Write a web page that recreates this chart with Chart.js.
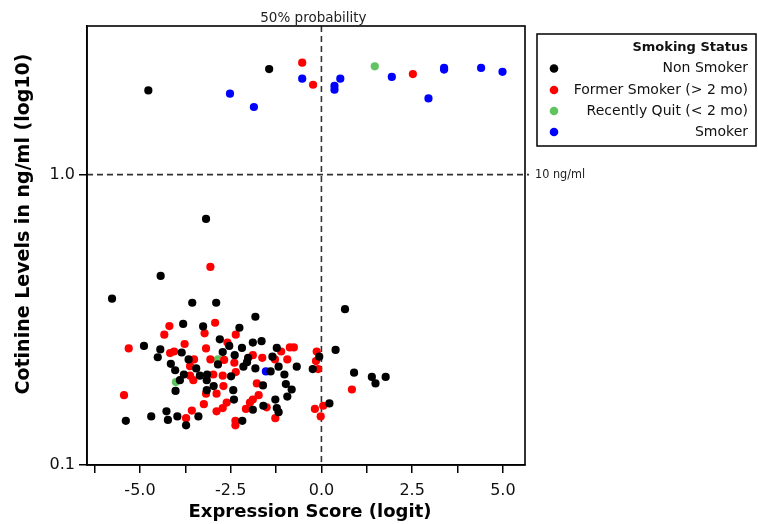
<!DOCTYPE html>
<html>
<head>
<meta charset="utf-8">
<script src="https://cdn.jsdelivr.net/npm/chart.js@4/dist/chart.umd.min.js"></script>
<style>
html,body{margin:0;padding:0;background:#fff;}
#wrap{width:758px;height:524px;}
</style>
</head>
<body>
<div id="wrap"><canvas id="c" width="758" height="524"></canvas></div>
<script>
// ---- data (x = expression score logit, y = cotinine) ----
const nonSmokerX = [-4.77,-1.44,-3.18,-4.43,-5.77,-3.56,-2.90,-1.82,-3.81,-3.26,-2.26,-4.89,-4.44,-4.51,-3.85,-2.80,-2.54,-2.72,-2.19,-1.89,-1.65,-1.23,-2.39,-2.02,-3.66,-4.15,-4.03,-3.79,-3.35,-3.15,-2.85,-2.49,-2.15,-1.82,-1.40,-1.18,-1.02,-0.68,-1.61,-0.98,-0.82,-0.94,-1.27,-1.23,-1.18,-1.89,-1.60,-2.43,-2.41,-3.16,-2.97,-3.16,-4.02,-4.27,-4.23,-4.69,-3.97,-5.39,-3.73,-3.39,-2.18,-0.24,0.39,0.65,0.22,-0.06,0.90,1.39,1.49,1.77,-3.45,-2.05,-1.35,-3.90];
const nonSmokerY = [1.95,2.31,0.704,0.448,0.374,0.362,0.362,0.324,0.306,0.300,0.297,0.257,0.250,0.235,0.244,0.271,0.257,0.245,0.253,0.264,0.267,0.253,0.239,0.234,0.231,0.223,0.212,0.205,0.203,0.205,0.222,0.202,0.218,0.215,0.210,0.218,0.205,0.218,0.188,0.190,0.182,0.172,0.168,0.157,0.152,0.155,0.160,0.181,0.168,0.196,0.187,0.181,0.180,0.153,0.143,0.147,0.147,0.142,0.137,0.147,0.142,0.214,0.249,0.344,0.163,0.236,0.208,0.201,0.191,0.201,0.215,0.226,0.236,0.196];
const formerX = [-0.53,-0.23,2.52,-3.06,-2.93,-4.19,-4.33,-3.22,-2.59,-2.36,-3.77,-5.31,-4.17,-4.06,-3.18,-3.51,-3.06,-2.68,-2.40,-1.89,-1.63,-1.28,-1.11,-0.87,-0.76,-0.94,-0.13,-0.15,-0.09,-3.62,-2.36,-2.98,-2.72,-3.62,-3.53,-2.70,-1.78,-3.18,-2.89,-1.73,-1.89,-1.97,-2.61,-3.24,-2.72,-2.89,-2.08,-1.51,-1.27,-3.57,-3.73,-2.37,-2.37,-5.44,-0.18,0.05,-0.02,0.84];
const formerY = [2.43,2.04,2.22,0.481,0.309,0.301,0.281,0.284,0.264,0.281,0.261,0.252,0.243,0.246,0.252,0.231,0.231,0.230,0.225,0.239,0.234,0.231,0.246,0.254,0.254,0.231,0.246,0.228,0.214,0.219,0.209,0.205,0.203,0.203,0.196,0.187,0.191,0.176,0.176,0.174,0.168,0.164,0.164,0.162,0.157,0.153,0.156,0.158,0.145,0.154,0.145,0.142,0.137,0.174,0.156,0.160,0.147,0.182];
const quitX = [1.47,-2.85,-4.01];
const quitY = [2.36,0.231,0.193];
const smokerX = [-2.52,-1.86,-0.53,0.36,0.36,0.52,1.94,2.95,3.38,3.38,4.40,4.99,-1.53];
const smokerY = [1.90,1.71,2.14,2.02,1.96,2.14,2.17,1.83,2.33,2.30,2.33,2.26,0.210];
const seriesNames = ['Non Smoker','Former Smoker (> 2 mo)','Recently Quit (< 2 mo)','Smoker'];
const seriesColors = ['#000000','#ff0000','#5fc45f','#0000ff'];
const yTickValues = [0.1, 1.0];
const xLabelStep = 2.5;

function pts(xs, ys){ return xs.map((x,i)=>({x:x, y:ys[i]})); }
const allX = [nonSmokerX, formerX, quitX, smokerX];
const allY = [nonSmokerY, formerY, quitY, smokerY];

const datasets = seriesNames.map((n,i)=>({
  label:n, data:pts(allX[i], allY[i]),
  backgroundColor:seriesColors[i], borderColor:seriesColors[i],
  borderWidth:0, pointRadius:4.1, pointHoverRadius:4.1, pointStyle:'circle'
}));

const FONT = 'DejaVu Sans';

const extras = {
  id:'extras',
  beforeDatasetsDraw(chart){
    const ctx = chart.ctx, a = chart.chartArea;
    const xs = chart.scales.x, ys = chart.scales.y;
    ctx.save();
    ctx.strokeStyle = '#333'; ctx.lineWidth = 1.6; ctx.setLineDash([6,4]);
    const x0 = xs.getPixelForValue(0);
    ctx.beginPath(); ctx.moveTo(x0, a.top); ctx.lineTo(x0, a.bottom); ctx.stroke();
    const y1 = ys.getPixelForValue(1);
    ctx.beginPath(); ctx.moveTo(a.left, y1); ctx.lineTo(a.right+4, y1); ctx.stroke();
    ctx.restore();
  },
  afterDraw(chart){
    const ctx = chart.ctx, a = chart.chartArea;
    const xs = chart.scales.x, ys = chart.scales.y;
    ctx.save();
    // frame
    ctx.strokeStyle = '#000'; ctx.lineWidth = 1.6; ctx.setLineDash([]);
    ctx.strokeRect(a.left, a.top, a.right-a.left, a.bottom-a.top);
    // reference labels
    ctx.fillStyle = '#222';
    ctx.font = '13.5px "' + FONT + '"';
    ctx.textAlign = 'center'; ctx.textBaseline = 'middle';
    ctx.fillText('50% probability', xs.getPixelForValue(0) - 8, 18);
    ctx.font = '12.5px "DejaVu Sans Condensed"';
    ctx.textAlign = 'left';
    ctx.fillText('10 ng/ml', a.right + 10, ys.getPixelForValue(1));
    // axis titles
    ctx.fillStyle = '#000';
    ctx.font = 'bold 18px "' + FONT + '"';
    ctx.textAlign = 'center';
    ctx.fillText('Expression Score (logit)', 310, 512);
    ctx.translate(24, 224); ctx.rotate(-Math.PI/2);
    ctx.font = 'bold 19px "' + FONT + '"';
    ctx.fillText('Cotinine Levels in ng/ml (log10)', 0, 0);
    ctx.restore();
    // legend
    ctx.save();
    ctx.strokeStyle = '#000'; ctx.lineWidth = 1.5;
    ctx.strokeRect(537, 34, 219, 112);
    ctx.fillStyle = '#111';
    ctx.textAlign = 'right'; ctx.textBaseline = 'middle';
    ctx.font = 'bold 13px "' + FONT + '"';
    ctx.fillText('Smoking Status', 748, 48);
    ctx.font = '14px "' + FONT + '"';
    const rows = [68.5, 90, 111, 132];
    seriesNames.forEach((n,i)=>{
      ctx.fillStyle = '#111';
      ctx.fillText(n, 748, rows[i]);
      ctx.fillStyle = seriesColors[i];
      ctx.beginPath(); ctx.arc(554, rows[i], 4.3, 0, Math.PI*2); ctx.fill();
    });
    ctx.restore();
  }
};

new Chart(document.getElementById('c'), {
  type:'scatter',
  data:{datasets},
  options:{
    responsive:false, animation:false,
    layout:{padding:{left:0, right:233, top:26, bottom:0}},
    plugins:{legend:{display:false}, tooltip:{enabled:false}},
    scales:{
      x:{
        type:'linear', position:'bottom', min:-6.46, max:5.61,
        afterFit(s){ s.height = 59; },
        ticks:{
          stepSize:1.25, includeBounds:false, autoSkip:false, maxRotation:0,
          color:'#111', font:{family:FONT, size:16}, padding:8,
          callback(v){ const r=v/xLabelStep; return Math.abs(r-Math.round(r))<1e-6 ? v.toFixed(1) : ''; }
        },
        grid:{drawOnChartArea:false, drawTicks:true, tickLength:8, color:'#000', lineWidth:1.5},
        border:{display:true, color:'#000', width:1.6},
        title:{display:false}
      },
      y:{
        type:'logarithmic', position:'left', min:0.1, max:3.25,
        afterFit(s){ s.width = 87; },
        afterBuildTicks(s){ s.ticks = yTickValues.map(v=>({value:v})); },
        ticks:{
          color:'#111', font:{family:FONT, size:16}, padding:4, autoSkip:false,
          callback(v){ return Number(v).toFixed(1); }
        },
        grid:{drawOnChartArea:false, drawTicks:true, tickLength:8, color:'#000', lineWidth:1.5},
        border:{display:true, color:'#000', width:1.6},
        title:{display:false}
      }
    }
  },
  plugins:[extras]
});
</script>
</body>
</html>
